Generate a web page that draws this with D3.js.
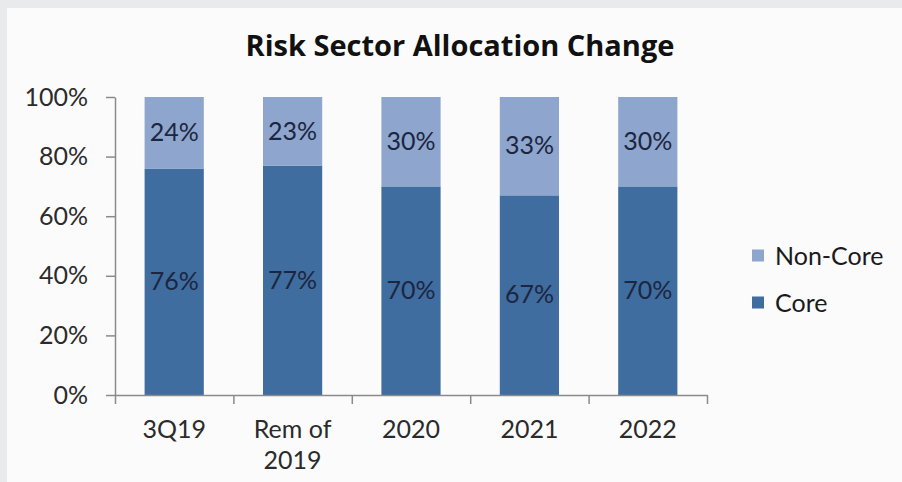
<!DOCTYPE html>
<html><head><meta charset="utf-8">
<script src="https://cdn.jsdelivr.net/npm/d3@7"></script>
<style>body{margin:0;padding:0;overflow:hidden;} svg{display:block;}</style>
</head><body>
<svg id="c" width="902" height="482"></svg>
<script>
const categories = ["3Q19", "Rem of 2019", "2020", "2021", "2022"];
const coreValues = [76, 77, 70, 67, 70];
const nonCoreValues = [24, 23, 30, 33, 30];
const seriesNames = ["Core", "Non-Core"];
const yTicks = [0, 20, 40, 60, 80, 100];
const title = "Risk Sector Allocation Change";

(function() {
const colors = {"Core": "#3f6d9f", "Non-Core": "#8ea5cd"};
const FONT = "Lato, 'Open Sans', sans-serif";
const FS = 25;

const svg = d3.select("#c");
svg.append("rect").attr("width", 902).attr("height", 482).attr("fill", "#e9eaec");
svg.append("rect").attr("x", 7).attr("y", 8).attr("width", 895).attr("height", 474).attr("fill", "#fbfbfb");

const pLeft = 115, pRight = 707, pTop = 97, pBottom = 395;
const x = d3.scaleBand().domain(categories).range([pLeft, pRight]).paddingInner(0.5).paddingOuter(0.25);
const y = d3.scaleLinear().domain([0, 100]).range([pBottom, pTop]);

const rows = categories.map((c, i) => ({cat: c, "Core": coreValues[i], "Non-Core": nonCoreValues[i]}));
const stacked = d3.stack().keys(seriesNames)(rows);

const g = svg.append("g");
stacked.forEach(s => {
  g.selectAll(null).data(s).enter().append("rect")
    .attr("x", d => x(d.data.cat))
    .attr("width", x.bandwidth())
    .attr("y", d => y(d[1]))
    .attr("height", d => y(d[0]) - y(d[1]))
    .attr("fill", colors[s.key]);
  g.selectAll(null).data(s).enter().append("text")
    .attr("x", d => x(d.data.cat) + x.bandwidth() / 2)
    .attr("y", d => (y(d[0]) + y(d[1])) / 2)
    .attr("dy", "0.33em")
    .attr("text-anchor", "middle")
    .attr("font-family", FONT)
    .attr("font-size", FS)
    .attr("fill", "#1c2640")
    .text(d => (d[1] - d[0]) + "%");
});

const yAxis = svg.append("g").attr("transform", `translate(${pLeft},0)`)
  .call(d3.axisLeft(y).tickValues(yTicks).tickFormat(d => d + "%").tickSize(9).tickSizeOuter(0).tickPadding(18));
yAxis.selectAll("path,line").attr("stroke", "#8a8a8a").attr("stroke-width", 1.5);
yAxis.selectAll("text").attr("font-family", FONT).attr("font-size", FS).attr("fill", "#2b2b2b");

const bIdx = d3.scaleLinear().domain([0, categories.length]).range([pLeft, pRight]);
const xTicksG = svg.append("g").attr("transform", `translate(0,${pBottom})`)
  .call(d3.axisBottom(bIdx).tickValues(d3.range(categories.length + 1)).tickFormat("").tickSize(9).tickSizeOuter(0));
xTicksG.selectAll("path,line").attr("stroke", "#8a8a8a").attr("stroke-width", 1.5);

const xAxis = svg.append("g").attr("transform", `translate(0,${pBottom})`)
  .call(d3.axisBottom(x).tickSize(0).tickPadding(0));
xAxis.select("path").remove();
xAxis.selectAll("text").each(function(d) {
  const t = d3.select(this);
  t.text(null).attr("y", 0).attr("dy", null)
    .attr("font-family", FONT).attr("font-size", FS).attr("fill", "#2b2b2b");
  const lines = d === "Rem of 2019" ? ["Rem of", "2019"] : [d];
  lines.forEach((ln, i) => {
    t.append("tspan").attr("x", 0).attr("y", 43 + i * 31).text(ln);
  });
});

svg.append("text").attr("x", 460).attr("y", 56).attr("text-anchor", "middle")
  .attr("font-family", "'Open Sans', Lato, sans-serif").attr("font-weight", "bold").attr("font-size", 29)
  .attr("fill", "#111").text(title);

const legendItems = ["Non-Core", "Core"];
const lg = svg.append("g");
legendItems.forEach((k, i) => {
  const cy = 256 + i * 47;
  lg.append("rect").attr("x", 752).attr("y", cy - 6.5).attr("width", 12).attr("height", 12).attr("fill", colors[k]);
  lg.append("text").attr("x", 775).attr("y", cy).attr("dy", "0.35em")
    .attr("font-family", FONT).attr("font-size", FS).attr("fill", "#1a1a1a").text(k);
});
})();
</script>
</body></html>
